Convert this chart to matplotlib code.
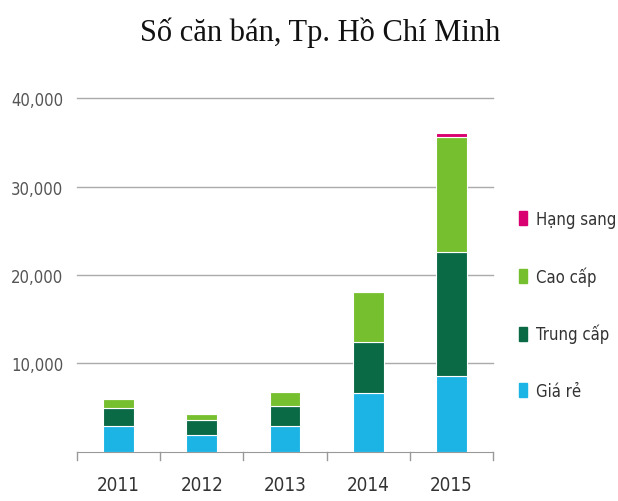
import matplotlib
matplotlib.use("Agg")
import matplotlib.pyplot as plt
from matplotlib.patches import Patch

# data
years = ["2011", "2012", "2013", "2014", "2015"]
gia_re = [2950, 1900, 2950, 6700, 8600]
trung_cap = [2000, 1650, 2200, 5700, 14000]
cao_cap = [1000, 750, 1600, 5650, 13000]
hang_sang = [0, 0, 0, 0, 450]

series = [("Giá rẻ", gia_re, "#1bb4e4"),
          ("Trung cấp", trung_cap, "#0a6a46"),
          ("Cao cấp", cao_cap, "#76bf2f"),
          ("Hạng sang", hang_sang, "#d9006f")]

yticks = [10000, 20000, 30000, 40000]

NARROW = ["Liberation Sans Narrow", "DejaVu Sans"]

fig = plt.figure(figsize=(6.18, 5.02), dpi=100)
ax = fig.add_axes([0.1246, 0.0982, 0.673, 0.704])

x = list(range(len(years)))
bottom = [0] * len(years)
for name, vals, col in series:
    ax.bar(x, vals, width=0.37, bottom=bottom, color=col,
           edgecolor="white", linewidth=0.8, zorder=3)
    bottom = [b + v for b, v in zip(bottom, vals)]

ax.set_xlim(-0.5, 4.5)
ax.set_ylim(0, 40000)
ax.set_yticks(yticks)
ax.set_yticklabels([f"{v:,}" for v in yticks], family=NARROW,
                   stretch="condensed", fontsize=12, color="#555555")
for v in yticks:
    ax.axhline(v, color="#aaaaaa", lw=1, zorder=1, clip_on=False)

# category labels centred, tick marks on the boundaries
ax.set_xticks(x)
ax.set_xticklabels(years, family=NARROW, stretch="condensed",
                   fontsize=13.5, color="#333333")
ax.tick_params(axis="x", length=0, pad=17)
ax.tick_params(axis="y", length=0, pad=10)
for b in [i - 0.5 for i in range(len(years) + 1)]:
    ax.plot([b, b], [0, -900], color="#999999", lw=1, clip_on=False)

for s in ["top", "right", "left"]:
    ax.spines[s].set_visible(False)
ax.spines["bottom"].set_color("#999999")

handles = [Patch(color=col, label=name) for name, _, col in reversed(series)]
leg = fig.legend(handles=handles, loc="upper left",
                 bbox_to_anchor=(0.8155, 0.61), frameon=False,
                 handlelength=0.5, handleheight=0.9, handletextpad=0.5,
                 labelspacing=2.3,
                 prop={"family": NARROW, "stretch": "condensed", "size": 12})
for t in leg.get_texts():
    t.set_color("#333333")

fig.text(0.518, 0.934, "Số căn bán, Tp. Hồ Chí Minh", ha="center",
         va="center", family=["Liberation Serif", "DejaVu Serif"],
         fontsize=22, color="#111111")

fig.savefig("out.png", dpi=100)
